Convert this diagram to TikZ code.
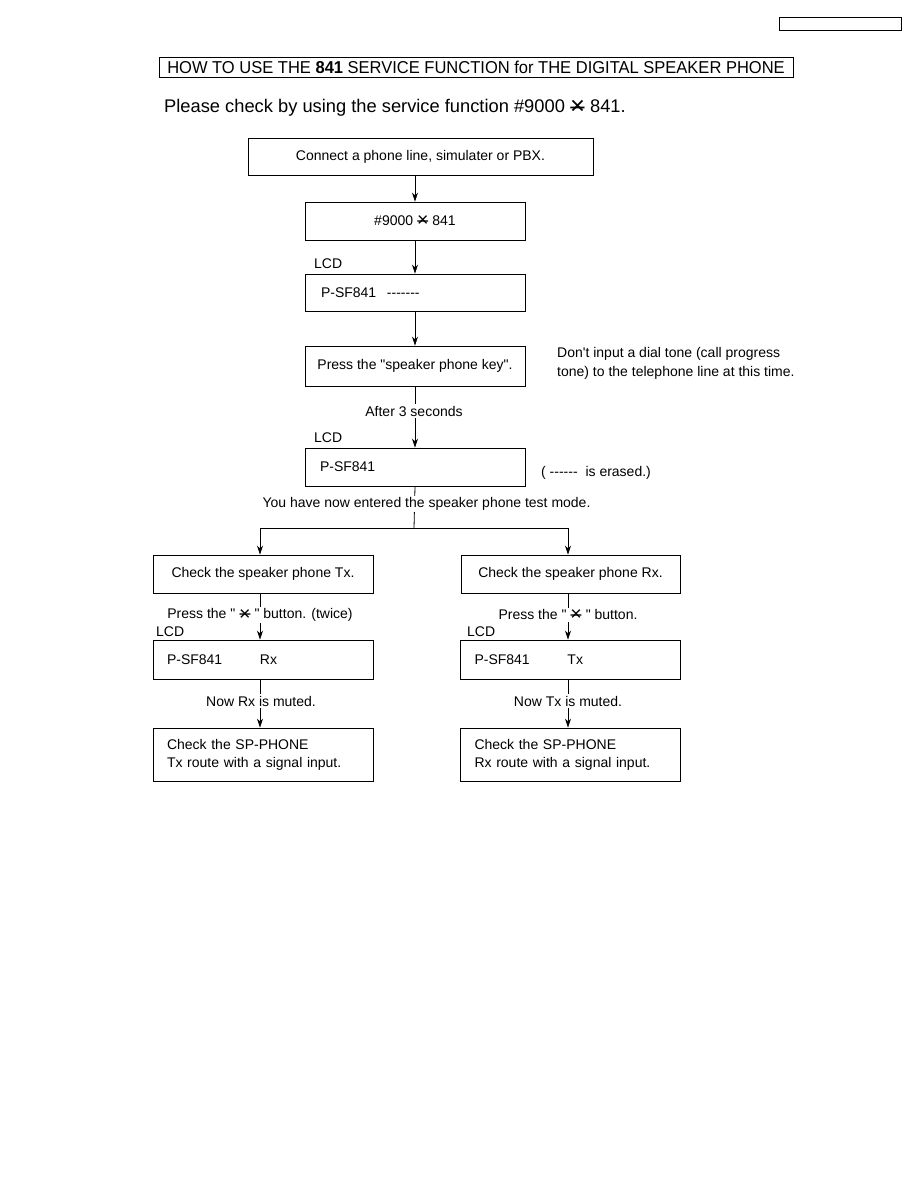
\documentclass[tikz,border=0pt]{standalone}
\usepackage{fontspec}
\setmainfont{Liberation Sans}[Ligatures=TeXOff]
\newfontfamily\titlefont{Liberation Sans}[FakeStretch=0.96]
\usetikzlibrary{arrows.meta}
\newcommand{\sxt}{\raisebox{-0.1em}{\scalebox{1.4}{\ooalign{\hfil×\hfil\cr\hfil\raisebox{0.02em}{–}\hfil\cr}}}}
\begin{document}
\begin{tikzpicture}[x=1pt,y=-1pt,
  base/.style={font=\fontsize{14}{18}\selectfont},
  box/.style={base, draw, line width=0.9pt, inner sep=0pt},
  lbox/.style={box, align=left, inner xsep=14pt, text width=192pt},
  lbl/.style={base, inner sep=1pt},
  wlbl/.style={base, inner sep=1.5pt, fill=white},
  arr/.style={line width=0.8pt, -{Stealth[length=9pt,width=6pt]}},
  ln/.style={line width=0.8pt}]
\useasboundingbox (0,0) rectangle (918,1188);
\fill[white] (0,0) rectangle (918,1188);

\node[draw, line width=0.9pt, minimum width=122pt, minimum height=13pt, inner sep=0] (hdr) at (840,23.5) {};
\node[draw, line width=0.9pt, minimum width=634pt, minimum height=20pt, inner sep=0,
      font=\titlefont\fontsize{17.2}{20}\selectfont] (title) at (476,67)
  {HOW TO USE THE \textbf{841} SERVICE FUNCTION for THE DIGITAL SPEAKER PHONE};

\node[anchor=west, inner sep=0, font=\fontsize{18.3}{22}\selectfont] (intro) at (164,108)
  {Please check by using the service function \#9000 \sxt\ 841.};

% main column
\node[box, minimum width=345pt, minimum height=37pt] (b1) at (420.5,156.5) {Connect a phone line, simulater or PBX.};
\node[box, minimum width=220pt, minimum height=38pt] (b2) at (415,221) {\#9000 \sxt\ 841};
\node[lbl, anchor=west] (lcd1) at (313,264) {LCD};
\node[box, minimum width=220pt, minimum height=37pt, align=left, inner xsep=16pt, text width=188pt] (b3) at (415,292.5)
  {\makebox[66pt][l]{P-SF841}-------};
\node[box, minimum width=220pt, minimum height=40pt] (b4) at (415,366) {Press the "speaker phone key".};
\node[anchor=north west, align=left, inner sep=0, font=\fontsize{14}{19.5}\selectfont] (note) at (557,347)
  {Don't input a dial tone (call progress\\tone) to the telephone line at this time.};
\node[lbl, anchor=west] (lcd2) at (313,438) {LCD};
\node[box, minimum width=220pt, minimum height=38pt, align=left, inner xsep=15pt, text width=190pt] (b5) at (415,467)
  {P-SF841};
\node[lbl, anchor=west] (erased) at (540,473) {( ------\ \ is erased.)};

\draw[arr] (b2.north |- b1.south) -- (b2.north);
\draw[arr] (b2.south) -- (b3.north);
\draw[arr] (b3.south) -- (b4.north);
\draw[arr] (b4.south) -- (b5.north);
\node[wlbl] (after) at (414,411) {After 3 seconds};

\coordinate (j) at (414,528);
\draw[ln] (b5.south) -- (j);
\node[wlbl] (mode) at (426.5,504) {You have now entered the speaker phone test mode.};

% left branch
\node[box, minimum width=220pt, minimum height=38pt] (l1) at (263,574) {Check the speaker phone Tx.};
\node[lbox, minimum width=220pt, minimum height=39pt] (l2) at (263,659.5) {\makebox[93pt][l]{P-SF841}Rx};
\node[lbox, minimum width=220pt, minimum height=53pt] (l3) at (263,754.5) {Check the SP-PHONE\\Tx route with a signal input.};
% right branch
\node[box, minimum width=219pt, minimum height=38pt] (r1) at (570.5,574) {Check the speaker phone Rx.};
\node[lbox, minimum width=219pt, minimum height=39pt] (r2) at (570.5,659.5) {\makebox[93pt][l]{P-SF841}Tx};
\node[lbox, minimum width=219pt, minimum height=53pt] (r3) at (570.5,754.5) {Check the SP-PHONE\\Rx route with a signal input.};

\coordinate (jl) at (260,528);
\coordinate (jr) at (568,528);
\draw[ln] (jl) -- (jr);
\draw[arr] (jl) -- (jl |- l1.north);
\draw[arr] (jr) -- (jr |- r1.north);

\draw[arr] (jl |- l1.south) -- (jl |- l2.north);
\draw[arr] (jl |- l2.south) -- (jl |- l3.north);
\draw[arr] (jr |- r1.south) -- (jr |- r2.north);
\draw[arr] (jr |- r2.south) -- (jr |- r3.north);

\node[wlbl] (pl) at (260,615) {Press the " \sxt\ " button. (twice)};
\node[wlbl] (pr) at (568,615) {Press the " \sxt\ " button.};
\node[lbl, anchor=west] (lcd3) at (155,632) {LCD};
\node[lbl, anchor=west] (lcd4) at (466,632) {LCD};
\node[wlbl] (ml) at (261,701) {Now Rx is muted.};
\node[wlbl] (mr) at (568,701) {Now Tx is muted.};
\end{tikzpicture}
\end{document}
